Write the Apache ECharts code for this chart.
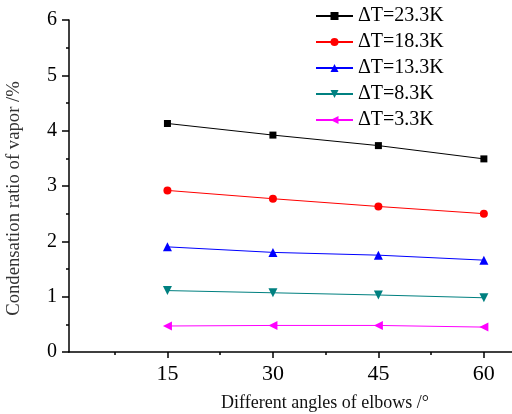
<!DOCTYPE html>
<html>
<head>
<meta charset="utf-8">
<script src="https://cdn.jsdelivr.net/npm/echarts@6/dist/echarts.min.js"></script>
<style>
  html, body { margin: 0; padding: 0; background: #fff; }
  #chart { width: 512px; height: 414px; }
</style>
</head>
<body>
<div id="chart"></div>
<script>
// Elbow angle (degrees) on the x axis
const angles = [15, 30, 45, 60];
const xTickValues = [15, 30, 45, 60];
const xMinorTickValues = [7.5, 22.5, 37.5, 52.5];

// Condensation ratio (%) for each temperature difference
const dT23_3 = [4.13, 3.92, 3.73, 3.49];
const dT18_3 = [2.92, 2.77, 2.63, 2.50];
const dT13_3 = [1.90, 1.80, 1.75, 1.66];
const dT8_3  = [1.11, 1.07, 1.03, 0.98];
const dT3_3  = [0.47, 0.48, 0.48, 0.45];

const seriesNames = ['\u0394T=23.3K', '\u0394T=18.3K', '\u0394T=13.3K', '\u0394T=8.3K', '\u0394T=3.3K'];

const FONT = '"Liberation Serif", "Times New Roman", serif';

function pairs(values) {
  return angles.map((a, i) => [a, values[i]]);
}

function lineSeries(name, values, color, symbol, size, rotate) {
  return {
    name: name,
    type: 'line',
    data: pairs(values),
    symbol: symbol,
    symbolSize: size,
    symbolRotate: rotate,
    lineStyle: { color: color, width: 1 },
    itemStyle: { color: color },
    emphasis: { disabled: true },
    animation: false,
    z: 3
  };
}

const chart = echarts.init(document.getElementById('chart'), null, { renderer: 'canvas' });

chart.setOption({
  backgroundColor: '#fff',
  animation: false,
  textStyle: { fontFamily: FONT },
  grid: { left: 69, right: 0, top: 20, bottom: 62, containLabel: false, outerBoundsMode: 'none' },
  legend: {
    orient: 'vertical',
    left: 315,
    top: 6,
    padding: 0,
    itemWidth: 37,
    itemHeight: 10,
    itemGap: 6,
    symbolRotate: 'inherit',
    textStyle: { fontFamily: FONT, fontSize: 20, color: '#000' },
    data: seriesNames.map(n => ({ name: n, textStyle: { fontFamily: FONT, fontSize: 20, color: '#000' } }))
  },
  xAxis: [
    {
      type: 'value',
      min: 1,
      max: 64,
      name: 'Different angles of elbows /\u00b0',
      nameLocation: 'middle',
      nameGap: 42,
      nameTextStyle: { fontFamily: FONT, fontSize: 18, color: '#111', padding: [0, 0, 0, 69] },
      axisLine: { show: true, onZero: false, lineStyle: { color: '#000', width: 1.5 } },
      axisTick: { show: true, inside: false, length: 6, customValues: xTickValues, lineStyle: { color: '#000', width: 1.5 } },
      axisLabel: { show: true, customValues: xTickValues, margin: 11, fontFamily: FONT, fontSize: 22, color: '#000' },
      splitLine: { show: false }
    },
    {
      type: 'value',
      min: 1,
      max: 64,
      position: 'bottom',
      axisLine: { show: false, onZero: false },
      axisTick: { show: true, inside: false, length: 3, customValues: xMinorTickValues, lineStyle: { color: '#000', width: 1.5 } },
      axisLabel: { show: false },
      splitLine: { show: false }
    }
  ],
  yAxis: {
    type: 'value',
    min: 0,
    max: 6,
    interval: 1,
    name: 'Condensation ratio of vapor /%',
    nameLocation: 'middle',
    nameGap: 45,
    nameRotate: 90,
    nameTextStyle: { fontFamily: FONT, fontSize: 18.7, color: '#333', padding: [0, 25, 0, 0] },
    axisLine: { show: true, onZero: false, lineStyle: { color: '#000', width: 1.5 } },
    axisTick: { show: true, inside: false, length: 7, lineStyle: { color: '#000', width: 1.5 } },
    minorTick: { show: true, splitNumber: 2, length: 3, lineStyle: { color: '#000', width: 1.5 } },
    axisLabel: { margin: 12, fontFamily: FONT, fontSize: 20, color: '#000' },
    splitLine: { show: false }
  },
  series: [
    lineSeries(seriesNames[0], dT23_3, '#000000', 'rect', 7, 0),
    lineSeries(seriesNames[1], dT18_3, '#ff0000', 'circle', 8, 0),
    lineSeries(seriesNames[2], dT13_3, '#0000ff', 'triangle', 9, 0),
    lineSeries(seriesNames[3], dT8_3, '#008080', 'triangle', 9, 180),
    lineSeries(seriesNames[4], dT3_3, '#ff00ff', 'triangle', 9, 90)
  ]
});
</script>
</body>
</html>
